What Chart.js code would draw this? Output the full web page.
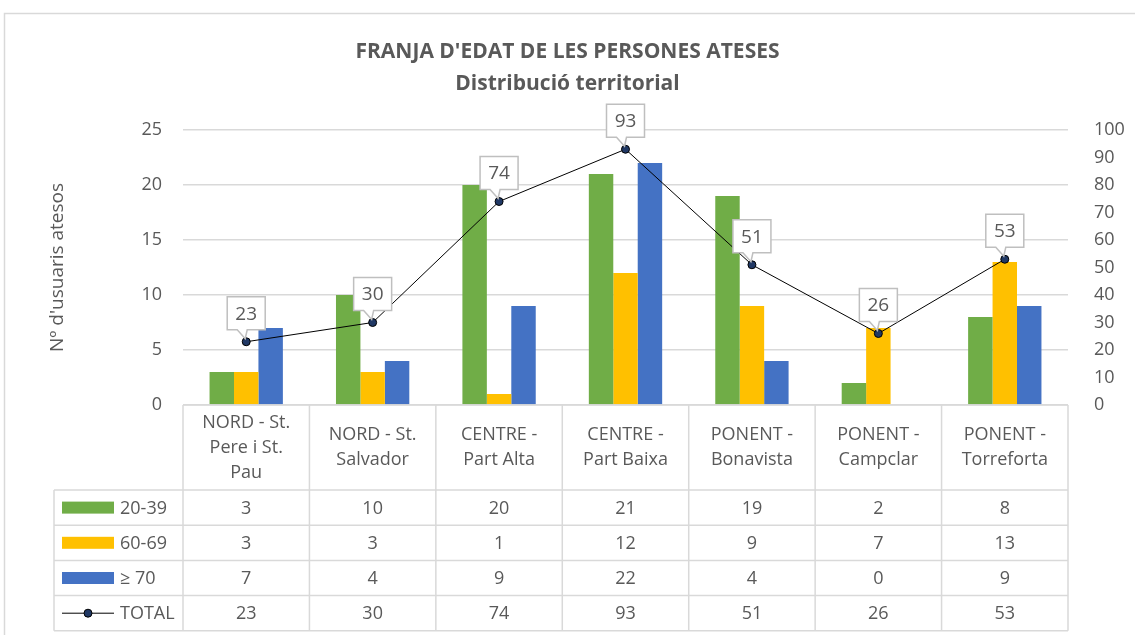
<!DOCTYPE html>
<html>
<head>
<meta charset="utf-8">
<script src="https://cdn.jsdelivr.net/npm/chart.js@4/dist/chart.umd.min.js"></script>
<style>
  html, body { margin: 0; padding: 0; background: #fff; }
  canvas { display: block; }
</style>
</head>
<body>
<canvas id="ageChart" width="1135" height="635"></canvas>
<script>
// Franja d'edat de les persones ateses - distribució territorial
const categories = [
  ['NORD - St.', 'Pere i St.', 'Pau'],
  ['NORD - St.', 'Salvador'],
  ['CENTRE -', 'Part Alta'],
  ['CENTRE -', 'Part Baixa'],
  ['PONENT -', 'Bonavista'],
  ['PONENT -', 'Campclar'],
  ['PONENT -', 'Torreforta']
];
const age20to39 = [3, 10, 20, 21, 19, 2, 8];
const age60to69 = [3, 3, 1, 12, 9, 7, 13];
const age70plus = [7, 4, 9, 22, 4, 0, 9];
const totals = [23, 30, 74, 93, 51, 26, 53];
const leftTicks = [0, 5, 10, 15, 20, 25];
const rightTicks = [0, 10, 20, 30, 40, 50, 60, 70, 80, 90, 100];

const TEXT = '#595959';
const GRID = '#d9d9d9';
const FONT = '"Open Sans", sans-serif';

// white background + frame of the chart object
const framePlugin = {
  id: 'frame',
  beforeDraw(chart) {
    const ctx = chart.ctx;
    ctx.save();
    ctx.fillStyle = '#fff';
    ctx.fillRect(0, 0, chart.width, chart.height);
    ctx.strokeStyle = GRID;
    ctx.lineWidth = 1.5;
    ctx.beginPath();
    ctx.moveTo(4.5, chart.height);
    ctx.lineTo(4.5, 13.5);
    ctx.lineTo(chart.width, 13.5);
    ctx.stroke();
    ctx.restore();
  }
};

// callout labels over the TOTAL line points
const calloutPlugin = {
  id: 'callouts',
  afterDatasetsDraw(chart) {
    const ctx = chart.ctx;
    const meta = chart.getDatasetMeta(3);
    ctx.save();
    ctx.font = '19px ' + FONT;
    ctx.textAlign = 'center';
    ctx.textBaseline = 'middle';
    meta.data.forEach((pt, i) => {
      const w = 38, h = 33;
      const bx = pt.x - w / 2, by = pt.y - 12 - h;
      ctx.beginPath();
      ctx.moveTo(bx, by);
      ctx.lineTo(bx + w, by);
      ctx.lineTo(bx + w, by + h);
      ctx.lineTo(pt.x + 1, by + h);
      ctx.lineTo(pt.x - 1, pt.y - 3);
      ctx.lineTo(pt.x - 9, by + h);
      ctx.lineTo(bx, by + h);
      ctx.closePath();
      ctx.fillStyle = '#fff';
      ctx.fill();
      ctx.strokeStyle = '#bfbfbf';
      ctx.lineWidth = 1.5;
      ctx.stroke();
      ctx.fillStyle = TEXT;
      ctx.fillText(String(totals[i]), pt.x, by + h / 2 + 1);
    });
    ctx.restore();
  }
};

// data table under the plot area
const tablePlugin = {
  id: 'dataTable',
  afterDraw(chart) {
    const ctx = chart.ctx;
    const area = chart.chartArea;
    const x = chart.scales.x;
    const n = categories.length;
    const colW = (area.right - area.left) / n;
    const top = area.bottom;
    const headH = 85;
    const rowH = 35.2;
    const legendLeft = 54;
    const rows = [
      { label: '20-39', values: age20to39, color: '#70ad47' },
      { label: '60-69', values: age60to69, color: '#ffc000' },
      { label: '\u2265 70', values: age70plus, color: '#4472c4' },
      { label: 'TOTAL', values: totals, line: true }
    ];
    const bodyTop = top + headH;
    const bottom = bodyTop + rows.length * rowH;

    ctx.save();
    ctx.strokeStyle = GRID;
    ctx.lineWidth = 1.5;
    ctx.beginPath();
    // horizontal lines
    ctx.moveTo(area.left, top); ctx.lineTo(area.right, top);
    for (let r = 0; r <= rows.length; r++) {
      const yy = bodyTop + r * rowH;
      ctx.moveTo(legendLeft, yy); ctx.lineTo(area.right, yy);
    }
    // vertical lines
    for (let c = 0; c <= n; c++) {
      const xx = area.left + c * colW;
      ctx.moveTo(xx, top); ctx.lineTo(xx, bottom);
    }
    ctx.moveTo(legendLeft, bodyTop); ctx.lineTo(legendLeft, bottom);
    ctx.stroke();

    ctx.fillStyle = TEXT;
    ctx.font = '18px ' + FONT;
    ctx.textAlign = 'center';
    ctx.textBaseline = 'middle';
    const lh = 25;
    categories.forEach((lines, i) => {
      const cx = x.getPixelForValue(i);
      const y0 = top + headH / 2 - (lines.length - 1) * lh / 2;
      lines.forEach((ln, k) => ctx.fillText(ln, cx, y0 + k * lh));
    });

    rows.forEach((row, r) => {
      const cy = bodyTop + r * rowH + rowH / 2;
      row.values.forEach((v, i) => {
        ctx.fillStyle = TEXT;
        ctx.textAlign = 'center';
        ctx.fillText(String(v), x.getPixelForValue(i), cy + 1);
      });
      if (row.line) {
        ctx.strokeStyle = '#000';
        ctx.lineWidth = 1;
        ctx.beginPath();
        ctx.moveTo(62, cy); ctx.lineTo(114, cy);
        ctx.stroke();
        ctx.beginPath();
        ctx.arc(88, cy, 4, 0, Math.PI * 2);
        ctx.fillStyle = '#203864';
        ctx.fill();
        ctx.stroke();
      } else {
        ctx.fillStyle = row.color;
        ctx.fillRect(62, cy - 6, 52, 12);
      }
      ctx.fillStyle = TEXT;
      ctx.textAlign = 'left';
      ctx.fillText(row.label, 120, cy + 1);
    });
    ctx.restore();
  }
};

new Chart(document.getElementById('ageChart'), {
  data: {
    labels: categories,
    datasets: [
      { type: 'bar', label: '20-39', data: age20to39, backgroundColor: '#70ad47', order: 1, yAxisID: 'y' },
      { type: 'bar', label: '60-69', data: age60to69, backgroundColor: '#ffc000', order: 1, yAxisID: 'y' },
      { type: 'bar', label: '\u2265 70', data: age70plus, backgroundColor: '#4472c4', order: 1, yAxisID: 'y' },
      {
        type: 'line', label: 'TOTAL', data: totals, yAxisID: 'y1', order: 0,
        borderColor: '#000', borderWidth: 1, tension: 0,
        pointRadius: 4, pointBackgroundColor: '#203864', pointBorderColor: '#000', pointBorderWidth: 1
      }
    ]
  },
  options: {
    responsive: false,
    animation: false,
    devicePixelRatio: 1,
    datasets: { bar: { categoryPercentage: 0.58, barPercentage: 1 } },
    plugins: {
      legend: { display: false },
      tooltip: { enabled: false },
      title: {
        display: true,
        text: "FRANJA D'EDAT DE LES PERSONES ATESES",
        color: TEXT,
        font: { family: FONT, size: 21, weight: 'bold', lineHeight: 1.2 },
        padding: { top: 39.4, bottom: 0 }
      },
      subtitle: {
        display: true,
        text: 'Distribució territorial',
        color: TEXT,
        font: { family: FONT, size: 21, weight: 'bold', lineHeight: 1.2 },
        padding: { top: 6.8, bottom: 33.4 }
      }
    },
    scales: {
      x: {
        offset: true,
        grid: { display: false },
        border: { display: false },
        ticks: { display: false },
        afterFit: s => { s.height = 230; }
      },
      y: {
        position: 'left',
        min: leftTicks[0],
        max: leftTicks[leftTicks.length - 1],
        afterBuildTicks: s => { s.ticks = leftTicks.map(v => ({ value: v })); },
        ticks: { padding: 21, color: TEXT, font: { family: FONT, size: 18 } },
        grid: { color: GRID, lineWidth: 1.5, drawTicks: false },
        border: { display: false },
        title: {
          display: true,
          text: "Nº d'usuaris atesos",
          color: TEXT,
          font: { family: FONT, size: 19, lineHeight: 1.2 },
          padding: { top: 46.6, bottom: 0 }
        },
        afterFit: s => { s.width = 183; }
      },
      y1: {
        position: 'right',
        min: rightTicks[0],
        max: rightTicks[rightTicks.length - 1],
        afterBuildTicks: s => { s.ticks = rightTicks.map(v => ({ value: v })); },
        ticks: { padding: 26, color: TEXT, font: { family: FONT, size: 18 } },
        grid: { display: false, drawTicks: false },
        border: { display: false },
        afterFit: s => { s.width = 67; }
      }
    }
  },
  plugins: [framePlugin, calloutPlugin, tablePlugin]
});
</script>
</body>
</html>
